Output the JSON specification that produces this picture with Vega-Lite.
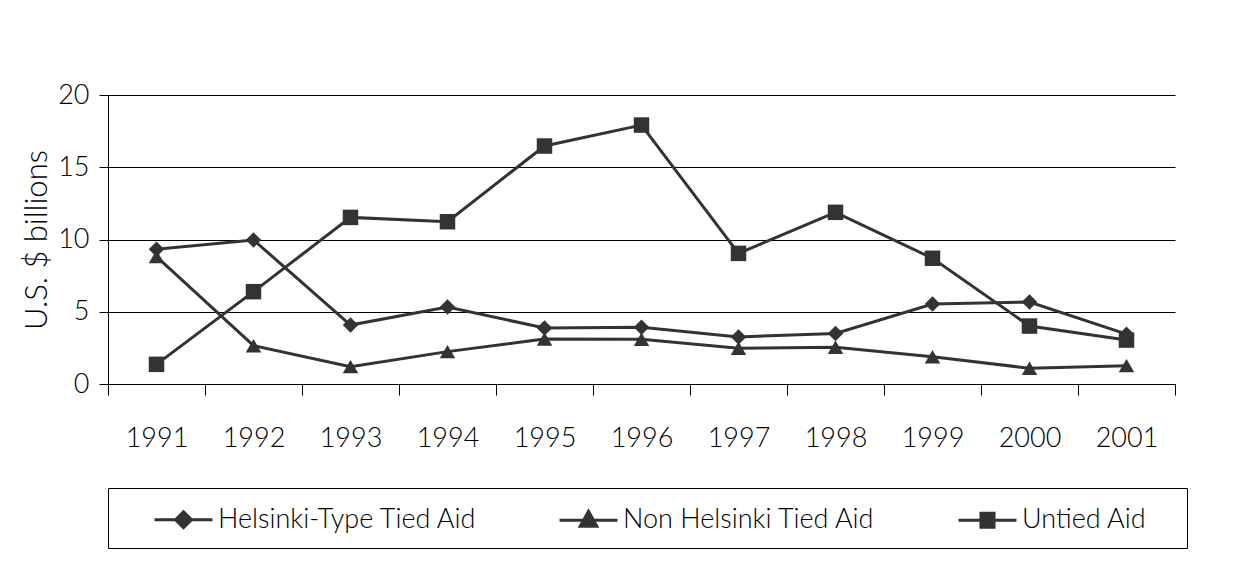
{
  "$schema": "https://vega.github.io/schema/vega-lite/v6.json",
  "width": 1067,
  "height": 289,
  "autosize": {"type": "none"},
  "padding": {"left": 108, "top": 95, "right": 67, "bottom": 177},
  "background": "white",
  "config": {
    "view": {"stroke": null},
    "font": "Lato",
    "axis": {"labelFontWeight": 300, "titleFontWeight": 300},
    "legend": {"labelFontWeight": 300}
  },
  "data": {
    "values": [
      {"year": "1991", "series": "Helsinki-Type Tied Aid", "value": 9.33},
      {"year": "1992", "series": "Helsinki-Type Tied Aid", "value": 9.97},
      {"year": "1993", "series": "Helsinki-Type Tied Aid", "value": 4.08},
      {"year": "1994", "series": "Helsinki-Type Tied Aid", "value": 5.33},
      {"year": "1995", "series": "Helsinki-Type Tied Aid", "value": 3.87},
      {"year": "1996", "series": "Helsinki-Type Tied Aid", "value": 3.92},
      {"year": "1997", "series": "Helsinki-Type Tied Aid", "value": 3.26},
      {"year": "1998", "series": "Helsinki-Type Tied Aid", "value": 3.5},
      {"year": "1999", "series": "Helsinki-Type Tied Aid", "value": 5.54},
      {"year": "2000", "series": "Helsinki-Type Tied Aid", "value": 5.67},
      {"year": "2001", "series": "Helsinki-Type Tied Aid", "value": 3.45},
      {"year": "1991", "series": "Non Helsinki Tied Aid", "value": 8.82},
      {"year": "1992", "series": "Non Helsinki Tied Aid", "value": 2.65},
      {"year": "1993", "series": "Non Helsinki Tied Aid", "value": 1.2},
      {"year": "1994", "series": "Non Helsinki Tied Aid", "value": 2.24},
      {"year": "1995", "series": "Non Helsinki Tied Aid", "value": 3.11},
      {"year": "1996", "series": "Non Helsinki Tied Aid", "value": 3.1},
      {"year": "1997", "series": "Non Helsinki Tied Aid", "value": 2.47},
      {"year": "1998", "series": "Non Helsinki Tied Aid", "value": 2.54},
      {"year": "1999", "series": "Non Helsinki Tied Aid", "value": 1.89},
      {"year": "2000", "series": "Non Helsinki Tied Aid", "value": 1.09},
      {"year": "2001", "series": "Non Helsinki Tied Aid", "value": 1.27},
      {"year": "1991", "series": "Untied Aid", "value": 1.36},
      {"year": "1992", "series": "Untied Aid", "value": 6.39},
      {"year": "1993", "series": "Untied Aid", "value": 11.53},
      {"year": "1994", "series": "Untied Aid", "value": 11.23},
      {"year": "1995", "series": "Untied Aid", "value": 16.47},
      {"year": "1996", "series": "Untied Aid", "value": 17.92},
      {"year": "1997", "series": "Untied Aid", "value": 9.04},
      {"year": "1998", "series": "Untied Aid", "value": 11.88},
      {"year": "1999", "series": "Untied Aid", "value": 8.7},
      {"year": "2000", "series": "Untied Aid", "value": 4.01},
      {"year": "2001", "series": "Untied Aid", "value": 3.04}
    ]
  },
  "encoding": {
    "x": {
      "field": "year",
      "type": "ordinal",
      "bandPosition": 0.5,
      "scale": {"type": "band", "paddingInner": 0, "paddingOuter": 0},
      "axis": {
        "title": null,
        "tickBand": "extent",
        "tickSize": 11,
        "tickColor": "#000",
        "tickWidth": 1,
        "domainColor": "#000",
        "domainWidth": 1,
        "labelAngle": 0,
        "labelPadding": 30,
        "labelFontSize": 27,
        "labelColor": "#000",
        "grid": false
      }
    },
    "y": {
      "field": "value",
      "type": "quantitative",
      "scale": {"domain": [0, 20], "nice": false},
      "axis": {
        "title": "U.S. $ billions",
        "values": [0, 5, 10, 15, 20],
        "tickSize": 9,
        "tickColor": "#000",
        "domainColor": "#000",
        "labelPadding": 10,
        "labelFontSize": 27,
        "labelColor": "#000",
        "titleFontSize": 31,
        "titleColor": "#000",
        "titlePadding": 4,
        "grid": true,
        "gridColor": "#000",
        "gridWidth": 1
      }
    }
  },
  "layer": [
    {
      "mark": {"type": "line", "strokeWidth": 3},
      "encoding": {
        "color": {
          "field": "series",
          "type": "nominal",
          "scale": {
            "domain": ["Helsinki-Type Tied Aid", "Non Helsinki Tied Aid", "Untied Aid"],
            "range": ["#333333", "#333333", "#333333"]
          },
          "legend": {
            "title": null,
            "orient": "none",
            "legendX": 0,
            "legendY": 393,
            "direction": "horizontal",
            "columns": 3,
            "padding": 14,
            "strokeColor": "#000",
            "fillColor": "white",
            "labelFontSize": 27,
            "labelColor": "#000",
            "symbolOffset": 44,
            "labelOffset": 17,
            "labelLimit": 500,
            "columnPadding": 50,
            "symbolSize": 1024,
            "symbolStrokeWidth": 3,
            "encode": {
              "symbols": {
                "update": {
                  "shape": {"signal": "datum.value === 'Helsinki-Type Tied Aid' ? 'M-1.81,0H1.81M0,-0.5L0.5,0L0,0.5L-0.5,0Z' : datum.value === 'Non Helsinki Tied Aid' ? 'M-1.81,0H1.81M0,-0.56L0.52,0.38L-0.52,0.38Z' : 'M11.16,0M-1.81,0H1.81M-0.41,-0.44H0.41V0.44H-0.41Z'"},
                  "fill": {"value": "#333"},
                  "strokeWidth": {"value": 3}
                }
              }
            }
          }
        }
      }
    },
    {
      "transform": [{"filter": "datum.series === 'Helsinki-Type Tied Aid'"}],
      "mark": {"type": "point", "shape": "diamond", "filled": true, "color": "#333", "size": 240, "opacity": 1}
    },
    {
      "transform": [{"filter": "datum.series === 'Non Helsinki Tied Aid'"}],
      "mark": {"type": "point", "shape": "triangle-up", "filled": true, "color": "#333", "size": 240, "opacity": 1}
    },
    {
      "transform": [{"filter": "datum.series === 'Untied Aid'"}],
      "mark": {"type": "point", "shape": "square", "filled": true, "color": "#333", "size": 240, "opacity": 1}
    }
  ]
}
